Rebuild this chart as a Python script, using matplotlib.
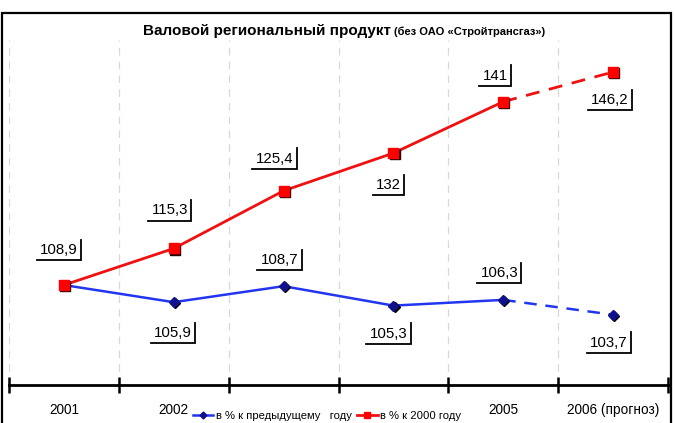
import matplotlib
matplotlib.use("Agg")
import matplotlib.pyplot as plt
from matplotlib.lines import Line2D
from matplotlib.patches import Rectangle
from matplotlib.transforms import IdentityTransform, offset_copy

plt.rcParams['font.family'] = ['Liberation Sans', 'DejaVu Sans']

# ---- data ----
years = ["2001", "2002", "2003", "2004", "2005", "2006 (прогноз)"]
# 2003 and 2004 labels are hidden under the legend in the reference
tick_labels = ["2001", "2002", "", "", "2005", "2006 (прогноз)"]
prev_year = [108.9, 105.9, 108.7, 105.3, 106.3, 103.7]
to_2000 = [108.9, 115.3, 125.4, 132.0, 141.0, 146.2]
prev_labels = ["", "105,9", "108,7", "105,3", "106,3", "103,7"]
to2000_labels = ["108,9", "115,3", "125,4", "132", "141", "146,2"]
legend_names = ["в % к предыдущему   году", "в % к 2000 году"]
title_main = "Валовой региональный продукт"
title_sub = "(без ОАО «Стройтрансгаз»)"

# label offsets (pixels) from the point
off_prev = [(0, 0), (-1, -31), (-4, 26), (-5, -28), (-4, 27), (-4, -28)]
off_2000 = [(-5, 35), (-4, 38), (-9, 32), (-5, -32), (-8, 26), (-3, -28)]

W, H = 675, 423
fig = plt.figure(figsize=(W / 100, H / 100), dpi=100)
ax = fig.add_axes([9 / W, 1 - 385 / H, (668 - 9) / W, (385 - 40) / H])

x = list(range(len(years)))
RED = "#f01010"
BLUE = "#2236f0"
NAVY = "#10108a"

# solid parts
ax.plot(x[:5], to_2000[:5], color=RED, lw=2.0, zorder=3, solid_capstyle='round')
ax.plot(x[4:], to_2000[4:], color=RED, lw=2.0, ls=(0, (5, 3.5)), zorder=3)
ax.plot(x[:5], prev_year[:5], color=BLUE, lw=1.8, zorder=3)
ax.plot(x[4:], prev_year[4:], color=BLUE, lw=1.8, ls=(0, (5, 3.5)), zorder=3)

# markers with shadow
sh = offset_copy(ax.transData, fig=fig, x=1.2, y=-1.2, units='dots')
ax.plot(x[1:], prev_year[1:], ls='none', marker='D', ms=5.5, color='black', transform=sh, zorder=4)
ax.plot(x[1:], prev_year[1:], ls='none', marker='D', ms=5.5, color=NAVY, zorder=5)
ax.plot(x, to_2000, ls='none', marker='s', ms=6.8, color='#300000', transform=sh, zorder=6)
ax.plot(x, to_2000, ls='none', marker='s', ms=6.8, color='#ff0000', zorder=7)

ax.set_xlim(-0.5, len(years) - 0.5)
ax.set_ylim(91.4, 151.8)

for s in ['top', 'left', 'right']:
    ax.spines[s].set_visible(False)
ax.spines['bottom'].set_linewidth(2)
ax.set_yticks([])

bounds = [i - 0.5 for i in range(len(years) + 1)]
ax.set_xticks(bounds)
ax.set_xticklabels([])
ax.tick_params(axis='x', which='major', direction='inout', length=11, width=1.8, color='black')
ax.set_xticks(x, minor=True)
ax.set_xticklabels(tick_labels, minor=True, fontsize=9.8)
ax.tick_params(axis='x', which='minor', length=0, pad=13)
for b in bounds[:-1]:
    ax.axvline(b, color='#d8d8d8', lw=0.9, ls=(0, (6, 5)), zorder=1)

# value labels
texts = []
for i, (v, lab) in enumerate(zip(to_2000, to2000_labels)):
    dx, dy = off_2000[i]
    t = ax.annotate(lab, (x[i], v), xytext=(dx, dy), textcoords='offset pixels',
                    ha='center', va='center', fontsize=10.8, zorder=8,
                    bbox=dict(boxstyle='square,pad=0.22', fc='white', ec='none'))
    texts.append(t)
for i, (v, lab) in enumerate(zip(prev_year, prev_labels)):
    if not lab:
        continue
    dx, dy = off_prev[i]
    t = ax.annotate(lab, (x[i], v), xytext=(dx, dy), textcoords='offset pixels',
                    ha='center', va='center', fontsize=10.8, zorder=8,
                    bbox=dict(boxstyle='square,pad=0.22', fc='white', ec='none'))
    texts.append(t)

# legend
h1 = Line2D([], [], color=BLUE, lw=1.8, marker='D', ms=3.5, mfc=NAVY, mec=NAVY)
h2 = Line2D([], [], color=RED, lw=2.0, marker='s', ms=4.5, mfc='#ff0000', mec='#ff0000')
leg = ax.legend([h1, h2], legend_names, loc='center', bbox_to_anchor=(327 / W, 1 - 416 / H),
                bbox_transform=fig.transFigure, ncol=2, fontsize=8.1, frameon=False,
                handlelength=1.8, handletextpad=0.25, columnspacing=0.5, borderpad=0.2,
                borderaxespad=0)
leg.set_zorder(10)

# title
t1 = fig.text(143 / W, 1 - 35 / H, title_main, fontsize=11, fontweight='bold', ha='left', va='baseline')

# frame
fig.add_artist(Rectangle((2 / W, -0.02), (671 - 2) / W, 1 - 13 / H + 0.02, fill=False,
                         lw=1.6, ec='black', transform=fig.transFigure, clip_on=False))

fig.canvas.draw()
r = fig.canvas.get_renderer()
e = t1.get_window_extent(r)
fig.text((e.x1 + 3) / W, 1 - 35 / H, title_sub, fontsize=8, fontweight='bold', ha='left', va='baseline')

for t in texts:
    bb = t.get_bbox_patch().get_window_extent(r)
    fig.add_artist(Line2D([bb.x0, bb.x1, bb.x1], [bb.y0, bb.y0, bb.y1], color='black', lw=1.3,
                          transform=IdentityTransform(), solid_joinstyle='miter', zorder=9))

fig.savefig("out.png", dpi=100)
